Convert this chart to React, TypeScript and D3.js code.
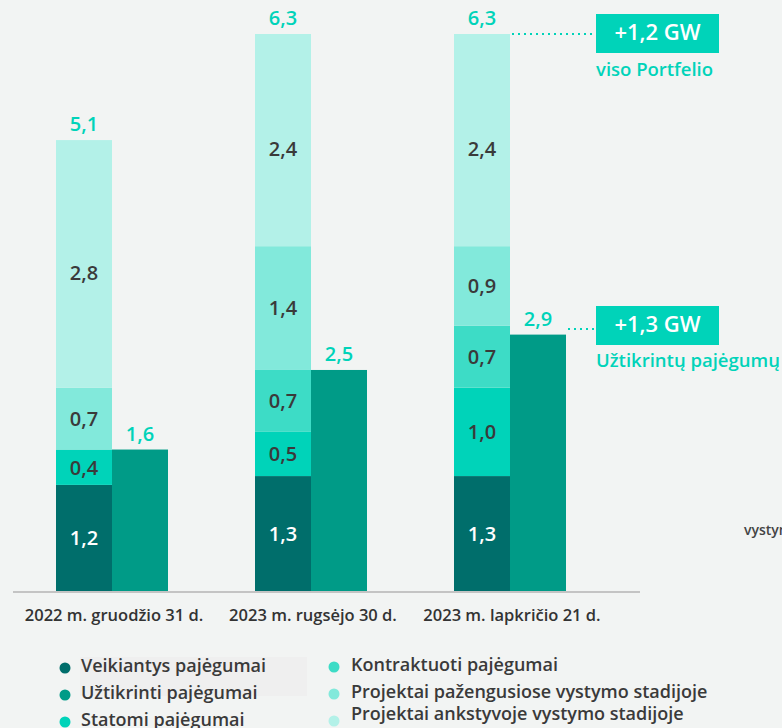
import React from "react";
import * as d3 from "d3";

const categories = ["2022 m. gruodžio 31 d.", "2023 m. rugsėjo 30 d.", "2023 m. lapkričio 21 d."];
const veikiantys = [1.2, 1.3, 1.3];
const statomi = [0.4, 0.5, 1.0];
const kontraktuoti = [0, 0.7, 0.7];
const pazengusiose = [0.7, 1.4, 0.9];
const ankstyvoje = [2.8, 2.4, 2.4];
const uztikrinti = [1.6, 2.5, 2.9];
const totals = ["5,1", "6,3", "6,3"];
const uztikrintiLabels = ["1,6", "2,5", "2,9"];

const seriesColors = ["#006e6b", "#00d3b9", "#3ddcc6", "#82e9db", "#b3f1e8"];
const seriesData = [veikiantys, statomi, kontraktuoti, pazengusiose, ankstyvoje];
const uztikrintiColor = "#009b87";
const teal = "#00d3b9";
const textDark = "#3a3a3a";

const legendCol1 = [
  { name: "Veikiantys pajėgumai", color: "#006e6b" },
  { name: "Užtikrinti pajėgumai", color: "#009b87" },
  { name: "Statomi pajėgumai", color: "#00d3b9" },
];
const legendCol2 = [
  { name: "Kontraktuoti pajėgumai", color: "#3ddcc6" },
  { name: "Projektai pažengusiose vystymo stadijoje", color: "#82e9db" },
  { name: "Projektai ankstyvoje vystymo stadijoje", color: "#b3f1e8" },
];

const fmt = (v: number) => v.toFixed(1).replace(".", ",");

export default function App() {
  const W = 782, H = 728;
  const baseY = 591;
  const y = d3.scaleLinear().domain([0, 6.3]).range([baseY, 34]);
  const x = d3.scalePoint<string>().domain(categories).range([56, 454]);
  const bw = 56;
  const font = "'Open Sans', sans-serif";

  const stacked = categories.map((c, i) => {
    let acc = 0;
    return seriesData.map((s, k) => {
      const v0 = acc;
      acc += s[i];
      return { k, v0, v1: acc, v: s[i] };
    });
  });

  return (
    <div style={{ position: "fixed", left: 0, top: 0 }}>
      <svg width={W} height={H} style={{ display: "block" }} fontFamily={font}>
        <rect width={W} height={H} fill="#f2f4f3" />
        {categories.map((c, i) => {
          const gx = x(c) as number;
          return (
            <g key={c}>
              {stacked[i].filter(s => s.v > 0).map(s => (
                <g key={s.k}>
                  <rect x={gx} y={y(s.v1)} width={bw} height={y(s.v0) - y(s.v1)} fill={seriesColors[s.k]} />
                  <text x={gx + bw / 2} y={(y(s.v0) + y(s.v1)) / 2 + (s.k === 4 ? 11 : 2)} textAnchor="middle" dominantBaseline="middle" fontSize={20} fontWeight={600} fill={s.k === 0 ? "#ffffff" : textDark}>{fmt(s.v)}</text>
                </g>
              ))}
              <text x={gx + bw / 2} y={y(stacked[i][4].v1) - 9} textAnchor="middle" fontSize={20} fontWeight={600} fill={teal}>{totals[i]}</text>
              <rect x={gx + bw} y={y(uztikrinti[i])} width={bw} height={baseY - y(uztikrinti[i])} fill={uztikrintiColor} />
              <text x={gx + bw * 1.5} y={y(uztikrinti[i]) - 9} textAnchor="middle" fontSize={20} fontWeight={600} fill={teal}>{uztikrintiLabels[i]}</text>
              <text x={gx + bw + 2} y={621} textAnchor="middle" fontSize={16.5} fontWeight={600} fill="#333">{c}</text>
            </g>
          );
        })}
        <line x1={13} x2={640} y1={baseY + 1} y2={baseY + 1} stroke="#c4c4c4" strokeWidth={2} />

        {/* annotations */}
        <line x1={512} x2={596} y1={34} y2={34} stroke={teal} strokeWidth={2} strokeDasharray="2,4" />
        <rect x={596} y={14} width={123} height={39} fill={teal} />
        <text x={657.5} y={34} textAnchor="middle" dominantBaseline="middle" fontSize={22} fontWeight={600} fill="#fff">+1,2 GW</text>
        <text x={596} y={76} fontSize={18.5} fontWeight={600} fill={teal}>viso Portfelio</text>

        <line x1={568} x2={596} y1={329} y2={329} stroke={teal} strokeWidth={2} strokeDasharray="2,4" />
        <rect x={596} y={306} width={123} height={39} fill={teal} />
        <text x={657.5} y={326} textAnchor="middle" dominantBaseline="middle" fontSize={22} fontWeight={600} fill="#fff">+1,3 GW</text>
        <text x={596} y={367} fontSize={18.5} fontWeight={600} fill={teal}>Užtikrintų pajėgumų</text>

        <text x={744} y={535} fontSize={14} fontWeight={600} fill="#444">vystymo stadijoje</text>

        {/* legend */}
        <rect x={80} y={657} width={227} height={39} fill="#efefef" />
        {legendCol1.map((l, i) => (
          <g key={l.name}>
            <circle cx={65} cy={668 + i * 27} r={5.5} fill={l.color} />
            <text x={81} y={667 + i * 27} dominantBaseline="middle" fontSize={18} fontWeight={600} fill={textDark}>{l.name}</text>
          </g>
        ))}
        {legendCol2.map((l, i) => (
          <g key={l.name}>
            <circle cx={334} cy={667 + i * 27} r={5.5} fill={l.color} />
            <text x={351} y={666 + i * 27 - (i === 2 ? 5 : 0)} dominantBaseline="middle" fontSize={18} fontWeight={600} fill={textDark}>{l.name}</text>
          </g>
        ))}
      </svg>
    </div>
  );
}
